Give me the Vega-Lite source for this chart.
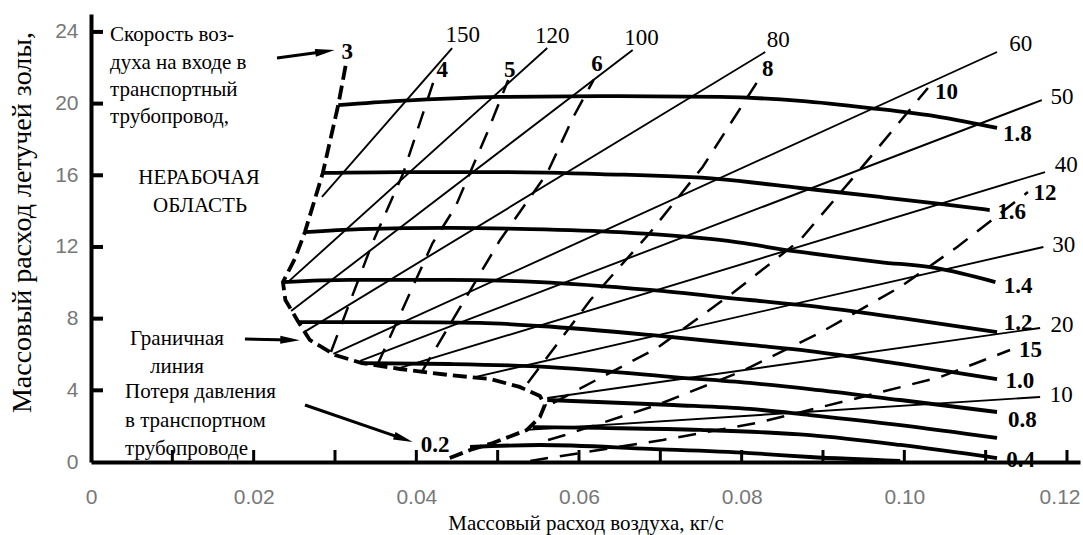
{
"$schema": "https://vega.github.io/schema/vega-lite/v6.json",
"width": 989, "height": 448,
"autosize": {"type": "none"},
"padding": {"left": 91, "top": 14, "right": 3, "bottom": 73},
"background": "white",
"config": {"view": {"stroke": null}},
"datasets": {
"press": [
{"s":"1.8","x":0.0304,"y":19.92},{"s":"1.8","x":0.038,"y":20.15},{"s":"1.8","x":0.0503,"y":20.37},{"s":"1.8","x":0.0626,"y":20.42},{"s":"1.8","x":0.0773,"y":20.37},{"s":"1.8","x":0.0872,"y":20.15},{"s":"1.8","x":0.0958,"y":19.75},{"s":"1.8","x":0.1044,"y":19.25},{"s":"1.8","x":0.1114,"y":18.64},
{"s":"1.6","x":0.0285,"y":16.13},{"s":"1.6","x":0.038,"y":16.18},{"s":"1.6","x":0.0503,"y":16.18},{"s":"1.6","x":0.0626,"y":16.07},{"s":"1.6","x":0.0773,"y":15.79},{"s":"1.6","x":0.0872,"y":15.29},{"s":"1.6","x":0.097,"y":14.79},{"s":"1.6","x":0.1044,"y":14.4},{"s":"1.6","x":0.1105,"y":14.06},
{"s":"1.4","x":0.0263,"y":12.83},{"s":"1.4","x":0.0331,"y":13.0},{"s":"1.4","x":0.0441,"y":13.06},{"s":"1.4","x":0.054,"y":13.0},{"s":"1.4","x":0.065,"y":12.83},{"s":"1.4","x":0.0773,"y":12.39},{"s":"1.4","x":0.0872,"y":11.72},{"s":"1.4","x":0.097,"y":11.16},{"s":"1.4","x":0.1038,"y":10.83},{"s":"1.4","x":0.1112,"y":10.04},
{"s":"1.2","x":0.0236,"y":10.04},{"s":"1.2","x":0.0318,"y":10.16},{"s":"1.2","x":0.0441,"y":10.16},{"s":"1.2","x":0.0552,"y":10.04},{"s":"1.2","x":0.0687,"y":9.6},{"s":"1.2","x":0.081,"y":9.04},{"s":"1.2","x":0.0884,"y":8.71},{"s":"1.2","x":0.0995,"y":8.04},{"s":"1.2","x":0.1114,"y":7.25},
{"s":"1.0","x":0.0255,"y":7.81},{"s":"1.0","x":0.038,"y":7.81},{"s":"1.0","x":0.0478,"y":7.76},{"s":"1.0","x":0.0552,"y":7.59},{"s":"1.0","x":0.0687,"y":7.09},{"s":"1.0","x":0.081,"y":6.53},{"s":"1.0","x":0.0884,"y":6.19},{"s":"1.0","x":0.0995,"y":5.47},{"s":"1.0","x":0.1114,"y":4.63},
{"s":"0.8","x":0.0333,"y":5.52},{"s":"0.8","x":0.0441,"y":5.47},{"s":"0.8","x":0.0564,"y":5.3},{"s":"0.8","x":0.0716,"y":4.74},{"s":"0.8","x":0.081,"y":4.41},{"s":"0.8","x":0.0884,"y":4.07},{"s":"0.8","x":0.0995,"y":3.46},{"s":"0.8","x":0.1114,"y":2.79},
{"s":"0.6","x":0.0561,"y":3.46},{"s":"0.6","x":0.0716,"y":3.18},{"s":"0.6","x":0.081,"y":2.96},{"s":"0.6","x":0.0884,"y":2.62},{"s":"0.6","x":0.0995,"y":2.06},{"s":"0.6","x":0.1114,"y":1.34},
{"s":"0.4","x":0.0543,"y":1.95},{"s":"0.4","x":0.0626,"y":1.9},{"s":"0.4","x":0.0749,"y":1.79},{"s":"0.4","x":0.0884,"y":1.5},{"s":"0.4","x":0.0995,"y":0.95},{"s":"0.4","x":0.1114,"y":0.22},
{"s":"0.2","x":0.0466,"y":0.84},{"s":"0.2","x":0.0552,"y":0.95},{"s":"0.2","x":0.0687,"y":0.73},{"s":"0.2","x":0.081,"y":0.5},{"s":"0.2","x":0.0884,"y":0.28},{"s":"0.2","x":0.0995,"y":0.06}
],
"ratio": [
{"s":"150","x":0.0284,"y":14.79},{"s":"150","x":0.0444,"y":23.1},
{"s":"120","x":0.0242,"y":10.04},{"s":"120","x":0.0561,"y":23.1},
{"s":"100","x":0.0246,"y":8.43},{"s":"100","x":0.0666,"y":22.99},
{"s":"80","x":0.0262,"y":7.25},{"s":"80","x":0.0829,"y":22.88},
{"s":"60","x":0.0298,"y":6.03},{"s":"60","x":0.1114,"y":22.88},
{"s":"50","x":0.0331,"y":5.64},{"s":"50","x":0.1169,"y":20.2},
{"s":"40","x":0.038,"y":5.25},{"s":"40","x":0.1173,"y":16.18},
{"s":"30","x":0.0472,"y":4.74},{"s":"30","x":0.1171,"y":12.0},
{"s":"20","x":0.0561,"y":3.57},{"s":"20","x":0.1167,"y":7.48},
{"s":"10","x":0.0536,"y":1.79},{"s":"10","x":0.1167,"y":3.63}
],
"vel": [
{"s":"4","x":0.0425,"y":21.76},{"s":"4","x":0.0384,"y":16.13},{"s":"4","x":0.0346,"y":12.22},{"s":"4","x":0.0295,"y":6.14},
{"s":"5","x":0.0513,"y":21.32},{"s":"5","x":0.0487,"y":18.36},{"s":"5","x":0.0448,"y":14.23},{"s":"5","x":0.042,"y":12.22},{"s":"5","x":0.0352,"y":5.41},
{"s":"6","x":0.0618,"y":21.32},{"s":"6","x":0.0593,"y":19.25},{"s":"6","x":0.0561,"y":16.13},{"s":"6","x":0.0503,"y":12.39},{"s":"6","x":0.0406,"y":4.97},
{"s":"8","x":0.0823,"y":21.48},{"s":"8","x":0.0752,"y":16.46},{"s":"8","x":0.0687,"y":12.78},{"s":"8","x":0.0614,"y":9.04},{"s":"8","x":0.0537,"y":4.41},
{"s":"10","x":0.1029,"y":20.87},{"s":"10","x":0.0942,"y":16.13},{"s":"10","x":0.0872,"y":12.39},{"s":"10","x":0.0789,"y":9.43},{"s":"10","x":0.0696,"y":6.36},{"s":"10","x":0.0598,"y":4.02},{"s":"10","x":0.0568,"y":3.29},
{"s":"12","x":0.1152,"y":15.07},{"s":"12","x":0.1065,"y":12.0},{"s":"12","x":0.0995,"y":9.77},{"s":"12","x":0.0896,"y":7.2},{"s":"12","x":0.0798,"y":5.02},{"s":"12","x":0.0696,"y":3.18},{"s":"12","x":0.0583,"y":1.51},{"s":"12","x":0.0562,"y":1.23},
{"s":"15","x":0.113,"y":6.25},{"s":"15","x":0.1044,"y":4.74},{"s":"15","x":0.0933,"y":3.46},{"s":"15","x":0.0819,"y":2.18},{"s":"15","x":0.0703,"y":1.23},{"s":"15","x":0.0601,"y":0.5},{"s":"15","x":0.054,"y":0.06}
],
"bound": [
{"i":0,"x":0.0313,"y":22.1},{"i":1,"x":0.0304,"y":19.92},{"i":2,"x":0.0285,"y":16.13},{"i":3,"x":0.0263,"y":12.83},{"i":4,"x":0.0251,"y":11.38},{"i":5,"x":0.0236,"y":10.04},{"i":6,"x":0.0239,"y":9.04},{"i":7,"x":0.0255,"y":7.81},{"i":8,"x":0.0269,"y":6.81},{"i":9,"x":0.03,"y":5.97},{"i":10,"x":0.0333,"y":5.52},{"i":11,"x":0.038,"y":5.19},{"i":12,"x":0.0441,"y":4.85},{"i":13,"x":0.0491,"y":4.63},{"i":14,"x":0.0527,"y":4.19},{"i":15,"x":0.0552,"y":3.68},{"i":16,"x":0.0558,"y":3.18},{"i":17,"x":0.0552,"y":2.51},{"i":18,"x":0.0536,"y":1.79},{"i":19,"x":0.0494,"y":1.06},{"i":20,"x":0.0466,"y":0.67},{"i":21,"x":0.0441,"y":0.22}
],
"arrows": [
{"x":0.02287,"y":22.54,"x2":0.02877,"y2":22.91},
{"x":0.01893,"y":6.86,"x2":0.02447,"y2":6.81},
{"x":0.02631,"y":3.18,"x2":0.03842,"y2":1.29}
],
"xticks": [{"x":0.01,"y":0},{"x":0.02,"y":0},{"x":0.03,"y":0},{"x":0.04,"y":0},{"x":0.05,"y":0},{"x":0.06,"y":0},{"x":0.07,"y":0},{"x":0.08,"y":0},{"x":0.09,"y":0},{"x":0.1,"y":0},{"x":0.11,"y":0},{"x":0.12,"y":0}],
"yticks": [{"x":0,"y":4},{"x":0,"y":8},{"x":0,"y":12},{"x":0,"y":16},{"x":0,"y":20},{"x":0,"y":24}],
"boldlab": [
{"t":"3","x":0.0315,"y":22.88},{"t":"4","x":0.0432,"y":21.88},{"t":"5","x":0.0515,"y":21.88},{"t":"6","x":0.0622,"y":22.21},{"t":"8","x":0.0832,"y":21.93},{"t":"10","x":0.1052,"y":20.65},{"t":"12","x":0.1173,"y":15.01},{"t":"15","x":0.1155,"y":6.25},
{"t":"1.8","x":0.1139,"y":18.3},{"t":"1.6","x":0.1132,"y":13.95},{"t":"1.4","x":0.114,"y":9.82},{"t":"1.2","x":0.114,"y":7.76},{"t":"1.0","x":0.1142,"y":4.52},{"t":"0.8","x":0.1145,"y":2.34},{"t":"0.4","x":0.1143,"y":0.11},{"t":"0.2","x":0.0423,"y":0.95}
],
"thinlab": [
{"t":"150","x":0.0457,"y":23.83},{"t":"120","x":0.0567,"y":23.77},{"t":"100","x":0.0677,"y":23.66},{"t":"80","x":0.0845,"y":23.55},{"t":"60","x":0.1143,"y":23.33},{"t":"50","x":0.1194,"y":20.37},{"t":"40","x":0.1199,"y":16.57},{"t":"30","x":0.1196,"y":12.11},{"t":"20","x":0.1194,"y":7.65},{"t":"10","x":0.1193,"y":3.74}
],
"notesL": [
{"t":"Скорость воз-","x":0.00234,"y":23.83},{"t":"духа на входе в","x":0.00234,"y":22.27},{"t":"транспортный","x":0.00234,"y":20.76},{"t":"трубопровод,","x":0.00234,"y":19.25},
{"t":"Потеря давления","x":0.00418,"y":3.91},{"t":"в транспортном","x":0.00418,"y":2.29},{"t":"трубопроводе","x":0.00418,"y":0.73}
],
"notesC": [
{"t":"НЕРАБОЧАЯ","x":0.01328,"y":15.85},{"t":"ОБЛАСТЬ","x":0.0134,"y":14.29},{"t":"Граничная","x":0.01057,"y":6.86},{"t":"линия","x":0.01057,"y":5.3}
]
},
"encoding": {
"x": {"field": "x", "type": "quantitative", "scale": {"domain": [0, 0.1216], "nice": false, "zero": false},
 "axis": {"values": [0,0.02,0.04,0.06,0.08,0.1,0.12],
  "labelExpr": "datum.value == 0 ? '0' : format(datum.value, '.2f')",
  "labelAlign": {"condition": {"test": "datum.value >= 0.119", "value": "right"}, "value": "center"},
  "labelOffset": {"condition": {"test": "datum.value >= 0.119", "value": 13}, "value": 0},
  "grid": false, "ticks": false, "domainWidth": 4, "domainColor": "#000",
  "labelFont": "Liberation Sans", "labelFontSize": 21, "labelColor": "#777", "labelPadding": 24, "labelOverlap": false, "labelFlush": false, "labelBound": false,
  "title": "Массовый расход воздуха, кг/с", "titleFont": "Liberation Serif", "titleFontSize": 21, "titleFontWeight": "normal", "titleColor": "#000", "titlePadding": 5}},
"y": {"field": "y", "type": "quantitative", "scale": {"domain": [0, 25], "nice": false, "zero": false},
 "axis": {"values": [0,4,8,12,16,20,24], "format": "d",
  "grid": false, "ticks": false, "domainWidth": 4, "domainColor": "#000",
  "labelFont": "Liberation Sans", "labelFontSize": 21, "labelColor": "#777", "labelPadding": 13, "labelOverlap": false, "labelFlush": false,
  "title": "Массовый расход летучей золы,", "titleFont": "Liberation Serif", "titleFontSize": 28, "titleFontWeight": "normal", "titleColor": "#000", "titlePadding": 18, "titleY": 208}}
},
"layer": [
{"data": {"name": "ratio"}, "mark": {"type": "line", "color": "#000", "strokeWidth": 1.9}, "encoding": {"detail": {"field": "s"}}},
{"data": {"name": "vel"}, "mark": {"type": "line", "color": "#000", "strokeWidth": 2.5, "strokeDash": [18, 12], "strokeCap": "butt"}, "encoding": {"detail": {"field": "s"}}},
{"data": {"name": "press"}, "mark": {"type": "line", "color": "#000", "strokeWidth": 3.8, "interpolate": "monotone"}, "encoding": {"detail": {"field": "s"}}},
{"data": {"name": "bound"}, "mark": {"type": "line", "color": "#000", "strokeWidth": 3.8, "strokeDash": [14, 6], "strokeCap": "butt"}, "encoding": {"order": {"field": "i", "type": "quantitative"}}},
{"data": {"name": "xticks"}, "mark": {"type": "tick", "orient": "vertical", "color": "#000", "thickness": 3, "size": 12, "yOffset": -6, "opacity": 1}},
{"data": {"name": "yticks"}, "mark": {"type": "tick", "orient": "horizontal", "color": "#000", "thickness": 4, "size": 12, "xOffset": 6, "opacity": 1}},
{"data": {"name": "arrows"}, "mark": {"type": "rule", "color": "#000", "strokeWidth": 3},
 "encoding": {"x2": {"field": "x2"}, "y2": {"field": "y2"}}},
{"data": {"name": "arrows"},
 "transform": [{"calculate": "atan2(-(datum.y2-datum.y)*17.92, (datum.x2-datum.x)*8133)*180/PI", "as": "ang"}],
 "mark": {"type": "point", "shape": "M -1 -0.4 L 1 0 L -1 0.4 Z", "filled": true, "color": "#000", "size": 380, "opacity": 1},
 "encoding": {"x": {"field": "x2", "type": "quantitative", "scale": {"domain": [0, 0.1216], "nice": false, "zero": false}},
  "y": {"field": "y2", "type": "quantitative", "scale": {"domain": [0, 25], "nice": false, "zero": false}},
  "angle": {"field": "ang", "type": "quantitative", "scale": null}}},
{"data": {"name": "boldlab"}, "mark": {"type": "text", "font": "Liberation Serif", "fontWeight": "bold", "fontSize": 23, "align": "center", "baseline": "middle", "color": "#000"}, "encoding": {"text": {"field": "t"}}},
{"data": {"name": "thinlab"}, "mark": {"type": "text", "font": "Liberation Serif", "fontSize": 23, "align": "center", "baseline": "middle", "color": "#000"}, "encoding": {"text": {"field": "t"}}},
{"data": {"name": "notesL"}, "mark": {"type": "text", "font": "Liberation Serif", "fontSize": 21, "align": "left", "baseline": "middle", "color": "#000"}, "encoding": {"text": {"field": "t"}}},
{"data": {"name": "notesC"}, "mark": {"type": "text", "font": "Liberation Serif", "fontSize": 21, "align": "center", "baseline": "middle", "color": "#000"}, "encoding": {"text": {"field": "t"}}}
]
}
